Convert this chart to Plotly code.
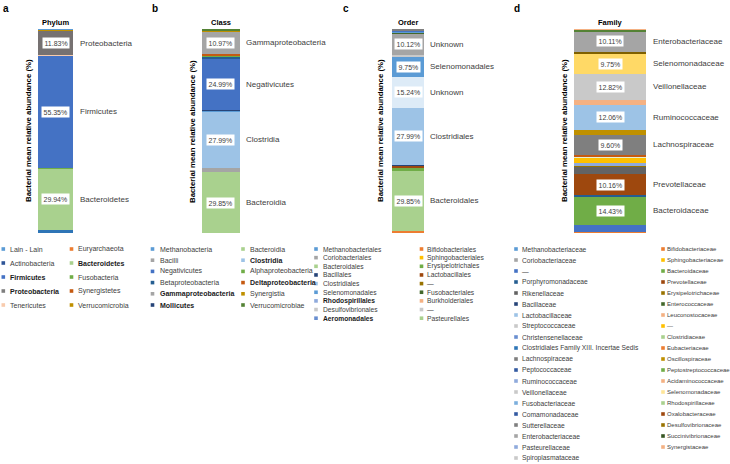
import plotly.graph_objects as go

W, H = 730, 464

# ---------------- DATA ----------------
# Panel a: Phylum (stack bottom -> top)
a_names = ["Actinobacteria", "Bacteroidetes", "Fusobacteria", "Firmicutes", "Tenericutes",
           "Proteobacteria", "Synergistetes", "Verrucomicrobia", "Euryarchaeota", "Lain - Lain"]
a_values = [1.5, 29.94, 0.3, 55.35, 0.1, 11.83, 0.2, 0.6, 0.1, 0.08]
a_colors = ["#2E75B6", "#A9D18E", "#70AD47", "#4472C4", "#F8CBAD",
            "#767171", "#C55A11", "#BF9000", "#ED7D31", "#5B9BD5"]
a_labels = {"Bacteroidetes": "Bacteroidetes", "Firmicutes": "Firmicutes", "Proteobacteria": "Proteobacteria"}

# Panel b: Class
b_names = ["Bacteroidia", "Bacilli", "Clostridia", "Methanobacteria", "Mollicutes", "Negativicutes",
           "Betaproteobacteria", "Alphaproteobacteria", "Deltaproteobacteria", "Gammaproteobacteria",
           "Synergistia", "Verrucomicrobiae"]
b_values = [29.85, 1.9, 27.99, 0.4, 0.2, 24.99, 1.3, 0.3, 0.8, 10.97, 0.5, 0.8]
b_colors = ["#A9D18E", "#A5A5A5", "#9DC3E6", "#5B9BD5", "#264478", "#4472C4",
            "#255E91", "#70AD47", "#C55A11", "#A5A5A5", "#BF9000", "#548235"]
b_labels = {"Bacteroidia": "Bacteroidia", "Clostridia": "Clostridia", "Negativicutes": "Negativicutes",
            "Gammaproteobacteria": "Gammaproteobacteria"}

# Panel c: Order
c_names = ["Bifidobacteriales", "Bacteroidales", "Pasteurellales", "Erysipelotrichales", "Lactobacillales",
           "Bacillales", "Clostridiales", "Unknown1", "Selenomonadales", "Rhodospirillales",
           "Desulfovibrionales", "Unknown2", "Burkholderiales", "Fusobacteriales", "Sphingobacteriales",
           "Methanobacteriales", "Aeromonadales", "Coriobacteriales"]
c_values = [0.8, 29.85, 0.2, 0.9, 1.2, 0.4, 27.99, 15.24, 9.75, 0.15, 1.0, 10.12, 0.3, 0.2, 0.2, 0.3, 0.6, 0.8]
c_colors = ["#ED7D31", "#A9D18E", "#A9D18E", "#70AD47", "#9E480E", "#264478", "#9DC3E6", "#DDEBF7",
            "#5B9BD5", "#8FAADC", "#C9C9C9", "#A5A5A5", "#F4B183", "#43682B", "#FFC000", "#5B9BD5",
            "#4472C4", "#7F7F7F"]
c_labels = {"Bacteroidales": "Bacteroidales", "Clostridiales": "Clostridiales", "Unknown1": "Unknown",
            "Selenomonadales": "Selenomonadales", "Unknown2": "Unknown"}

# Panel d: Family
d_names = ["Bifidobacteriaceae", "Unknown", "Bacteroidaceae", "Porphyromonadaceae", "Prevotellaceae",
           "Rikenellaceae", "Erysipelotrichaceae", "Lactobacillaceae", "Unknown2", "Clostridiaceae",
           "Eubacteriaceae", "Lachnospiraceae", "Oscillospiraceae", "Ruminococcaceae", "Acidaminococcaceae",
           "Veillonellaceae", "Selenomonadaceae", "Desulfovibrionaceae", "Enterobacteriaceae",
           "Succinivibrionaceae", "Synergistaceae"]
d_values = [0.7, 3.0, 14.43, 0.5, 10.16, 3.5, 1.0, 0.8, 2.9, 0.6, 0.8, 9.60, 2.7, 12.06, 2.6,
            12.82, 9.75, 0.97, 10.11, 0.8, 0.2]
d_colors = ["#ED7D31", "#4472C4", "#70AD47", "#255E91", "#9E480E", "#636363", "#997300", "#8FAADC",
            "#FFC000", "#E2EFDA", "#C55A11", "#7F7F7F", "#BF9000", "#9DC3E6", "#F4B183", "#C9C9C9",
            "#FFD966", "#7F6000", "#A5A5A5", "#548235", "#F4B183"]
d_labels = {"Bacteroidaceae": "Bacteroidaceae", "Prevotellaceae": "Prevotellaceae",
            "Lachnospiraceae": "Lachnospiraceae", "Ruminococcaceae": "Ruminococcaceae",
            "Veillonellaceae": "Veillonellaceae", "Selenomonadaceae": "Selenomonadaceae",
            "Enterobacteriaceae": "Enterobacteriaceae"}

# Legends (name, colour, bold)
a_leg1 = [("Lain - Lain", "#5B9BD5", 0), ("Actinobacteria", "#2E5597", 0), ("Firmicutes", "#4472C4", 1),
          ("Proteobacteria", "#7F7F7F", 1), ("Tenericutes", "#F8CBAD", 0)]
a_leg2 = [("Euryarchaeota", "#ED7D31", 0), ("Bacteroidetes", "#A9D18E", 1), ("Fusobacteria", "#70AD47", 0),
          ("Synergistetes", "#C55A11", 0), ("Verrucomicrobia", "#BF9000", 0)]
b_leg1 = [("Methanobacteria", "#5B9BD5", 0), ("Bacilli", "#A5A5A5", 0), ("Negativicutes", "#4472C4", 0),
          ("Betaproteobacteria", "#255E91", 0), ("Gammaproteobacteria", "#A5A5A5", 1), ("Mollicutes", "#264478", 1)]
b_leg2 = [("Bacteroidia", "#A9D18E", 0), ("Clostridia", "#9DC3E6", 1), ("Alphaproteobacteria", "#70AD47", 0),
          ("Deltaproteobacteria", "#C55A11", 1), ("Synergistia", "#BF9000", 0), ("Verrucomicrobiae", "#548235", 0)]
c_leg1 = [("Methanobacteriales", "#5B9BD5", 0), ("Coriobacteriales", "#A5A5A5", 0), ("Bacteroidales", "#A9D18E", 0),
          ("Bacillales", "#264478", 0), ("Clostridiales", "#9DC3E6", 0), ("Selenomonadales", "#5B9BD5", 0),
          ("Rhodospirillales", "#8FAADC", 1), ("Desulfovibrionales", "#C9C9C9", 0), ("Aeromonadales", "#698ED0", 1)]
c_leg2 = [("Bifidobacteriales", "#ED7D31", 0), ("Sphingobacteriales", "#FFC000", 0), ("Erysipelotrichales", "#70AD47", 0),
          ("Lactobacillales", "#9E480E", 0), ("—", "#997300", 0), ("Fusobacteriales", "#43682B", 0),
          ("Burkholderiales", "#F4B183", 0), ("—", "#C9C9C9", 0), ("Pasteurellales", "#A9D18E", 0)]
d_leg1 = [("Methanobacteriaceae", "#5B9BD5", 0), ("Coriobacteriaceae", "#A5A5A5", 0), ("—", "#4472C4", 0),
          ("Porphyromonadaceae", "#255E91", 0), ("Rikenellaceae", "#636363", 0), ("Bacillaceae", "#264478", 0),
          ("Lactobacillaceae", "#9DC3E6", 0), ("Streptococcaceae", "#C9C9C9", 0), ("Christensenellaceae", "#698ED0", 0),
          ("Clostridiales Family XIII. Incertae Sedis", "#2E75B6", 0), ("Lachnospiraceae", "#7F7F7F", 0),
          ("Peptococcaceae", "#335AA1", 0), ("Ruminococcaceae", "#8FAADC", 0), ("Veillonellaceae", "#C9C9C9", 0),
          ("Fusobacteriaceae", "#7CAFDD", 0), ("Comamonadaceae", "#335AA1", 0), ("Sutterellaceae", "#7F7F7F", 0),
          ("Enterobacteriaceae", "#A5A5A5", 0), ("Pasteurellaceae", "#8FAADC", 0), ("Spiroplasmataceae", "#C9C9C9", 0)]
d_leg2 = [("Bifidobacteriaceae", "#ED7D31", 0), ("Sphingobacteriaceae", "#FFC000", 0), ("Bacteroidaceae", "#70AD47", 0),
          ("Prevotellaceae", "#9E480E", 0), ("Erysipelotrichaceae", "#997300", 0), ("Enterococcaceae", "#43682B", 0),
          ("Leuconostocaceae", "#F4B183", 0), ("—", "#FFC000", 0), ("Clostridiaceae", "#A9D18E", 0),
          ("Eubacteriaceae", "#ED7D31", 0), ("Oscillospiraceae", "#BF9000", 0), ("Peptostreptococcaceae", "#70AD47", 0),
          ("Acidaminococcaceae", "#F4B183", 0), ("Selenomonadaceae", "#FFE699", 0), ("Rhodospirillaceae", "#A9D18E", 0),
          ("Oxalobacteraceae", "#9E480E", 0), ("Desulfovibrionaceae", "#997300", 0), ("Succinivibrionaceae", "#375623", 0),
          ("Synergistaceae", "#F4B183", 0)]

panel_letters = ["a", "b", "c", "d"]
panel_titles = ["Phylum", "Class", "Order", "Family"]
y_title = "Bacterial mean relative abundance (%)"

# ---------------- LAYOUT HELPERS ----------------
def px(x):
    return x / W

def py(y):
    return 1 - y / H

FONT = "Liberation Sans, Arial, sans-serif"
BAR_TOP, BAR_BOT = 29, 233

panels = [
    dict(names=a_names, values=a_values, colors=a_colors, labels=a_labels, x0=38, x1=73,
         letter_x=6, ytitle_x=28, label_dx=5),
    dict(names=b_names, values=b_values, colors=b_colors, labels=b_labels, x0=202, x1=240,
         letter_x=155, ytitle_x=192, label_dx=4),
    dict(names=c_names, values=c_values, colors=c_colors, labels=c_labels, x0=392, x1=424,
         letter_x=346, ytitle_x=380, label_dx=4),
    dict(names=d_names, values=d_values, colors=d_colors, labels=d_labels, x0=574, x1=646,
         letter_x=517, ytitle_x=564, label_dx=5),
]

fig = go.Figure()
annotations = []
shapes = []
layout_axes = {}

for i, p in enumerate(panels):
    k = "" if i == 0 else str(i + 1)
    xa, ya = "x" + k, "y" + k
    layout_axes["xaxis" + k] = dict(domain=[px(p["x0"]), px(p["x1"])], range=[-0.5, 0.5], visible=False,
                                    fixedrange=True, anchor=ya)
    layout_axes["yaxis" + k] = dict(domain=[py(BAR_BOT), py(BAR_TOP)], range=[0, 100], visible=False,
                                    fixedrange=True, anchor=xa)
    base = 0.0
    for name, val, col in zip(p["names"], p["values"], p["colors"]):
        fig.add_trace(go.Bar(x=[0], y=[val], base=[base], width=1, marker=dict(color=col, line=dict(width=0)),
                             name=name, showlegend=False, xaxis=xa, yaxis=ya,
                             hovertemplate=name + ": %{y:.2f}%<extra></extra>"))
        if name in p["labels"]:
            mid = base + val / 2
            annotations.append(dict(x=0, y=mid, xref=xa, yref=ya, text=f"{val:.2f}%", showarrow=False,
                                    xanchor="center", yanchor="middle",
                                    bgcolor="white", borderpad=1.5,
                                    font=dict(family=FONT, size=7, color="#404040")))
            annotations.append(dict(x=0.5, y=mid, xref=xa, yref=ya, text=p["labels"][name], showarrow=False,
                                    xanchor="left", yanchor="middle", xshift=p["label_dx"],
                                    font=dict(family=FONT, size=8, color="#404040")))
        base += val
    # title above bar
    annotations.append(dict(x=px((p["x0"] + p["x1"]) / 2), y=py(22.5), xref="paper", yref="paper",
                            text="<b>" + panel_titles[i] + "</b>", showarrow=False,
                            xanchor="center", yanchor="middle",
                            font=dict(family=FONT, size=7.5, color="#000000")))
    # panel letter
    annotations.append(dict(x=px(p["letter_x"]), y=py(8), xref="paper", yref="paper",
                            text="<b>" + panel_letters[i] + "</b>", showarrow=False,
                            xanchor="center", yanchor="middle",
                            font=dict(family=FONT, size=10, color="#000000")))
    # y axis title
    annotations.append(dict(x=px(p["ytitle_x"]), y=py(131), xref="paper", yref="paper",
                            text="<b>" + y_title + "</b>", showarrow=False, textangle=-90,
                            xanchor="center", yanchor="middle",
                            font=dict(family=FONT, size=7.8, color="#000000")))

legend_cols = [
    (a_leg1, 3.3, 9, 249, 14, 7),
    (a_leg2, 71.5, 77, 249, 14, 7),
    (b_leg1, 152.5, 158.5, 249, 11.2, 7),
    (b_leg2, 243, 249, 249, 11.2, 7),
    (c_leg1, 316, 321.5, 249, 8.65, 6.7),
    (c_leg2, 421.5, 426.5, 249, 8.65, 6.7),
    (d_leg1, 516, 521, 249, 11, 6.7),
    (d_leg2, 663, 666, 249, 11, 6.0),
]
S = 1.8
for items, sx, tx, y0, dy, fs in legend_cols:
    for j, (name, col, bold) in enumerate(items):
        yy = y0 + j * dy
        shapes.append(dict(type="rect", xref="paper", yref="paper", x0=px(sx - S), x1=px(sx + S),
                           y0=py(yy + S), y1=py(yy - S), fillcolor=col, line=dict(width=0)))
        annotations.append(dict(x=px(tx), y=py(yy), xref="paper", yref="paper",
                                text=("<b>" + name + "</b>") if bold else name, showarrow=False,
                                xanchor="left", yanchor="middle", borderpad=0,
                                font=dict(family=FONT, size=fs, color="#1a1a1a" if bold else "#404040")))

fig.update_layout(
    width=W, height=H, margin=dict(l=0, r=0, t=0, b=0),
    paper_bgcolor="white", plot_bgcolor="white", barmode="overlay", bargap=0,
    annotations=annotations, shapes=shapes, showlegend=False,
    **layout_axes,
)

fig.write_html("out.html")
